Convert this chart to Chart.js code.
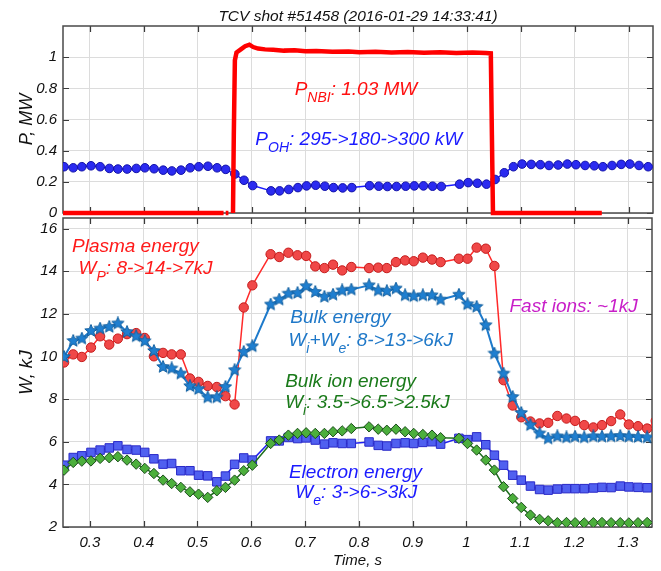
<!DOCTYPE html>
<html>
<head>
<meta charset="utf-8">
<title>TCV shot #51458</title>
<script src="https://cdn.jsdelivr.net/npm/chart.js@4.4.1/dist/chart.umd.min.js"></script>
<style>
  html, body { margin: 0; padding: 0; background: #fff; }
  #wrap { position: relative; width: 661px; height: 571px; }
  #wrap canvas { position: absolute; left: 0; top: 0; }
</style>
</head>
<body>
<div id="wrap">
  <canvas id="powerChart" width="661" height="571"></canvas>
  <canvas id="energyChart" width="661" height="571"></canvas>
</div>
<script>
const xTicks = [0.3, 0.4, 0.5, 0.6, 0.7, 0.8, 0.9, 1.0, 1.1, 1.2, 1.3];
const pTicks = [0, 0.2, 0.4, 0.6, 0.8, 1.0];
const wTicks = [2, 4, 6, 8, 10, 12, 14, 16];

// sample times of the diagnostics (s)
const tSample = [
  0.252, 0.269, 0.285, 0.302, 0.319, 0.336, 0.352, 0.369, 0.386, 0.402, 0.419,
  0.436, 0.452, 0.469, 0.486, 0.502, 0.519, 0.536, 0.552, 0.569, 0.586, 0.602,
  0.636, 0.652, 0.669, 0.686, 0.702, 0.719, 0.736, 0.752, 0.769, 0.786,
  0.819, 0.836, 0.852, 0.869, 0.886, 0.902, 0.919, 0.936, 0.952,
  0.986, 1.002, 1.019, 1.036, 1.052, 1.069, 1.086, 1.102, 1.119, 1.136, 1.152,
  1.169, 1.186, 1.202, 1.219, 1.236, 1.252, 1.269, 1.286, 1.302, 1.319, 1.336
];

// NBI power trace (MW)
const tNBI = [0.25, 0.548, 0.550, 0.552, 0.557, 0.560, 0.5655, 0.567, 0.569, 0.572, 0.58, 0.588,
  0.596, 0.603, 0.612, 0.625, 0.64, 0.66, 0.68, 0.70, 0.72, 0.75, 0.78, 0.80, 0.83, 0.86,
  0.89, 0.92, 0.95, 0.98, 1.01, 1.035, 1.044, 1.046, 1.048, 1.25];
const pNBI = [0, 0, null, 0, 0, null, 0, 0.5, 0.98, 1.03, 1.05, 1.07,
  1.08, 1.065, 1.055, 1.05, 1.047, 1.042, 1.045, 1.038, 1.04, 1.035, 1.037, 1.032, 1.034, 1.03,
  1.033, 1.028, 1.031, 1.027, 1.03, 1.026, 1.024, 0.5, 0, 0];

// ohmic power (MW)
const pOH = [
  0.297, 0.29, 0.297, 0.303, 0.297, 0.286, 0.282, 0.282, 0.286, 0.29, 0.284,
  0.275, 0.27, 0.275, 0.29, 0.297, 0.30, 0.29, 0.28, 0.25, 0.21, 0.176,
  0.142, 0.142, 0.151, 0.163, 0.174, 0.178, 0.172, 0.163, 0.161, 0.163,
  0.175, 0.172, 0.17, 0.17, 0.172, 0.174, 0.174, 0.172, 0.17,
  0.185, 0.195, 0.191, 0.185, 0.215, 0.258, 0.297, 0.314, 0.312, 0.31, 0.305,
  0.308, 0.314, 0.31, 0.305, 0.303, 0.297, 0.305, 0.312, 0.314, 0.305, 0.297
];

// plasma energy W_P (kJ), one extra sample past the right edge
const tPlasma = tSample.concat([1.352]);
const wPlasma = [
  9.72, 10.1, 9.98, 10.42, 10.95, 10.56, 10.84, 11.05, 11.1, 10.87, 10.01,
  10.17, 10.1, 10.1, 8.97, 8.81, 8.62, 8.57, 8.14, 7.75, 12.3, 13.34,
  14.8, 14.67, 14.87, 14.75, 14.72, 14.23, 14.15, 14.31, 14.04, 14.2,
  14.15, 14.17, 14.15, 14.43, 14.51, 14.47, 14.64, 14.55, 14.43,
  14.59, 14.59, 15.11, 15.06, 14.25, 8.89, 7.7, 7.15, 6.95, 6.86, 6.89,
  7.21, 7.09, 6.98, 6.78, 6.67, 6.78, 6.97, 7.28, 6.81, 6.73, 6.62, 6.98
];

// bulk energy W_i + W_e (kJ)
const wBulk = [
  9.98, 10.73, 10.84, 11.2, 11.31, 11.39, 11.55, 11.15, 10.95, 10.72, 10.26,
  9.51, 9.44, 9.2, 8.61, 8.47, 8.08, 8.08, 8.57, 9.36, 10.21, 10.48,
  12.44, 12.67, 12.95, 12.98, 13.3, 13.03, 12.8, 12.9, 13.1, 13.14,
  13.34, 13.1, 13.07, 13.19, 12.87, 12.83, 12.87, 12.87, 12.67,
  12.9, 12.45, 12.33, 11.47, 10.14, 9.2, 8.1, 7.35, 6.78, 6.39, 6.15,
  6.25, 6.2, 6.24, 6.2, 6.25, 6.24, 6.25, 6.27, 6.24, 6.22, 6.2
];

// bulk ion energy W_i (kJ)
const wIon = [
  4.67, 5.03, 5.09, 5.1, 5.22, 5.25, 5.3, 5.14, 4.95, 4.75, 4.51,
  4.2, 4.04, 3.86, 3.65, 3.54, 3.39, 3.7, 3.86, 4.2, 4.64, 4.9,
  5.92, 6.08, 6.31, 6.39, 6.42, 6.39, 6.39, 6.47, 6.51, 6.62,
  6.7, 6.59, 6.54, 6.59, 6.47, 6.39, 6.34, 6.31, 6.19,
  6.16, 5.92, 5.61, 5.14, 4.67, 3.89, 3.34, 2.92, 2.56, 2.36, 2.29,
  2.2, 2.21, 2.2, 2.19, 2.2, 2.21, 2.2, 2.2, 2.19, 2.2, 2.21
];

// electron energy W_e (kJ)
const wElectron = [
  4.9, 5.26, 5.34, 5.5, 5.61, 5.71, 5.81, 5.64, 5.61, 5.5, 5.2,
  4.95, 4.98, 4.64, 4.64, 4.43, 4.4, 4.12, 4.39, 4.94, 5.24, 5.14,
  6.04, 6.04, 6.2, 6.15, 6.18, 6.08, 5.89, 5.95, 5.92, 5.92,
  5.99, 5.83, 5.8, 5.92, 5.95, 5.92, 5.97, 6.0, 5.89,
  6.16, 6.1, 6.23, 5.86, 5.37, 4.9, 4.43, 4.2, 3.92, 3.76, 3.73,
  3.78, 3.8, 3.8, 3.8, 3.83, 3.86, 3.85, 3.92, 3.88, 3.86, 3.84
];

const FONT = '"Liberation Sans", Arial, sans-serif';
const pts = (xs, ys) => ys.map((v, i) => ({ x: xs[i], y: v }));

// filled five-pointed star used as marker
function makeStar(size, fill, stroke) {
  const c = document.createElement('canvas');
  c.width = c.height = size;
  const g = c.getContext('2d');
  const cx = size / 2, cy = size / 2, ro = size / 2 - 0.5, ri = ro * 0.45;
  g.beginPath();
  for (let i = 0; i < 10; i++) {
    const r = i % 2 ? ri : ro;
    const a = -Math.PI / 2 + i * Math.PI / 5;
    g.lineTo(cx + r * Math.cos(a), cy + r * Math.sin(a));
  }
  g.closePath();
  g.fillStyle = fill;
  g.fill();
  g.strokeStyle = stroke;
  g.lineWidth = 1;
  g.stroke();
  return c;
}

// box with inward ticks, matlab style
const framePlugin = {
  id: 'frame',
  beforeDatasetsDraw(chart) {
    const { ctx, chartArea: a, scales: { x, y } } = chart;
    ctx.save();
    ctx.strokeStyle = '#3a3a3a';
    ctx.lineWidth = 1.2;
    ctx.beginPath();
    x.ticks.forEach(t => {
      const px = Math.round(x.getPixelForValue(t.value)) + 0.5;
      ctx.moveTo(px, a.bottom); ctx.lineTo(px, a.bottom - 6);
      ctx.moveTo(px, a.top); ctx.lineTo(px, a.top + 6);
    });
    y.ticks.forEach(t => {
      const py = Math.round(y.getPixelForValue(t.value)) + 0.5;
      ctx.moveTo(a.left, py); ctx.lineTo(a.left + 6, py);
      ctx.moveTo(a.right, py); ctx.lineTo(a.right - 6, py);
    });
    ctx.stroke();
    ctx.strokeStyle = '#4a4a4a';
    ctx.lineWidth = 1.5;
    ctx.strokeRect(a.left, a.top, a.right - a.left, a.bottom - a.top);
    ctx.restore();
  }
};

// text labels with subscripts, placed in data units
const notesPlugin = {
  id: 'notes',
  afterDatasetsDraw(chart, args, opts) {
    const { ctx, chartArea: a, scales: { x, y } } = chart;
    ctx.save();
    ctx.textBaseline = 'alphabetic';
    if (opts.title) {
      ctx.font = 'italic 15.5px ' + FONT;
      ctx.fillStyle = '#111';
      ctx.textAlign = 'center';
      ctx.fillText(opts.title, (a.left + a.right) / 2, 20.5);
    }
    ctx.textAlign = 'left';
    (opts.items || []).forEach(item => {
      let px = x.getPixelForValue(item.x);
      const py = y.getPixelForValue(item.y);
      ctx.fillStyle = item.color;
      item.parts.forEach(([text, sub]) => {
        ctx.font = 'italic ' + (sub ? 14 : 19) + 'px ' + FONT;
        ctx.fillText(text, px, py + (sub ? 7 : 0));
        px += ctx.measureText(text).width;
      });
    });
    ctx.restore();
  }
};

const tickFont = { family: FONT, size: 15, style: 'italic' };
const gridStyle = { color: '#dcdcdc', lineWidth: 1, drawTicks: false };

function xAxis(showLabels) {
  return {
    type: 'linear', min: 0.25, max: 1.345,
    afterBuildTicks: s => { s.ticks = xTicks.map(v => ({ value: v })); },
    afterFit: s => { s.height = showLabels ? 44 : 0; },
    grid: gridStyle,
    border: { display: false },
    ticks: {
      display: showLabels, autoSkip: false, maxRotation: 0, padding: 7,
      color: '#111', font: tickFont,
      callback: v => String(Number(v.toFixed(1)))
    },
    title: {
      display: showLabels, text: 'Time, s', color: '#111',
      font: { family: FONT, size: 15, style: 'italic' },
      padding: { top: 0, bottom: 1 }
    }
  };
}

function yAxis(min, max, list, label) {
  return {
    type: 'linear', min: min, max: max,
    afterBuildTicks: s => { s.ticks = list.map(v => ({ value: v })); },
    afterFit: s => { s.width = 63; },
    grid: gridStyle,
    border: { display: false },
    ticks: {
      padding: 6, color: '#111', font: tickFont,
      callback: v => String(Number(v.toFixed(1)))
    },
    title: {
      display: true, text: label, color: '#111',
      font: { family: FONT, size: 18, style: 'italic' },
      padding: { top: 16, bottom: 0 }
    }
  };
}

const common = {
  responsive: false,
  animation: false,
  devicePixelRatio: 1,
  parsing: false,
  plugins: { legend: { display: false }, tooltip: { enabled: false } }
};

new Chart(document.getElementById('powerChart'), {
  type: 'line',
  data: {
    datasets: [
      {
        data: pts(tNBI, pNBI),
        borderColor: '#ff0000', borderWidth: 4.5, pointRadius: 0,
        spanGaps: false, clip: false
      },
      {
        data: pts(tSample, pOH),
        borderColor: '#1a1aff', borderWidth: 1.5,
        pointStyle: 'circle', pointRadius: 4.3,
        pointBackgroundColor: '#2b2bf0', pointBorderColor: '#1212a8', pointBorderWidth: 1
      }
    ]
  },
  options: Object.assign({}, common, {
    layout: { padding: { left: 0, right: 8, top: 26, bottom: 358 } },
    scales: { x: xAxis(false), y: yAxis(0, 1.2, pTicks, 'P, MW') },
    plugins: Object.assign({}, common.plugins, {
      notes: {
        title: 'TCV shot #51458 (2016-01-29 14:33:41)',
        items: [
          { x: 0.68, y: 0.758, color: '#ff1010', parts: [['P'], ['NBI', true], [': 1.03 MW']] },
          { x: 0.607, y: 0.438, color: '#1a1aff', parts: [['P'], ['OH', true], [': 295->180->300 kW']] }
        ]
      }
    })
  }),
  plugins: [framePlugin, notesPlugin]
});

const star = makeStar(14, '#1f7fd0', '#14609f');

new Chart(document.getElementById('energyChart'), {
  type: 'line',
  data: {
    datasets: [
      {
        data: pts(tSample, wBulk),
        borderColor: '#1e7acb', borderWidth: 2,
        pointStyle: star, pointRadius: 7
      },
      {
        data: pts(tPlasma, wPlasma),
        borderColor: '#ff2a2a', borderWidth: 1.5,
        pointStyle: 'circle', pointRadius: 4.7,
        pointBackgroundColor: '#f04848', pointBorderColor: '#c41c1c', pointBorderWidth: 1
      },
      {
        data: pts(tSample, wIon),
        borderColor: '#1e6e1e', borderWidth: 1.5,
        pointStyle: 'rectRot', pointRadius: 5.2,
        pointBackgroundColor: '#4caf3c', pointBorderColor: '#1b4d1b', pointBorderWidth: 1
      },
      {
        data: pts(tSample, wElectron),
        borderColor: '#2020f0', borderWidth: 1.5,
        pointStyle: 'rect', pointRadius: 6,
        pointBackgroundColor: '#5060f0', pointBorderColor: '#2a2ac8', pointBorderWidth: 1
      }
    ]
  },
  options: Object.assign({}, common, {
    layout: { padding: { left: 0, right: 8, top: 218, bottom: 0 } },
    scales: { x: xAxis(true), y: yAxis(2, 16.5, wTicks, 'W, kJ') },
    plugins: Object.assign({}, common.plugins, {
      notes: {
        items: [
          { x: 0.2667, y: 14.92, color: '#ff1a1a', parts: [['Plasma energy']] },
          { x: 0.279, y: 13.86, color: '#ff1a1a', parts: [['W'], ['P', true], [': 8->14->7kJ']] },
          { x: 0.6725, y: 11.56, color: '#1f78c8', parts: [['Bulk energy']] },
          { x: 0.669, y: 10.5, color: '#1f78c8', parts: [['W'], ['i', true], ['+W'], ['e', true], [': 8->13->6kJ']] },
          { x: 0.663, y: 8.59, color: '#1a7a1a', parts: [['Bulk ion energy']] },
          { x: 0.663, y: 7.59, color: '#1a7a1a', parts: [['W'], ['i', true], [': 3.5->6.5->2.5kJ']] },
          { x: 1.08, y: 12.1, color: '#c81ec8', parts: [['Fast ions: ~1kJ']] },
          { x: 0.67, y: 4.29, color: '#1a1aff', parts: [['Electron energy']] },
          { x: 0.682, y: 3.36, color: '#1a1aff', parts: [['W'], ['e', true], [': 3->6->3kJ']] }
        ]
      }
    })
  }),
  plugins: [framePlugin, notesPlugin]
});
</script>
</body>
</html>
